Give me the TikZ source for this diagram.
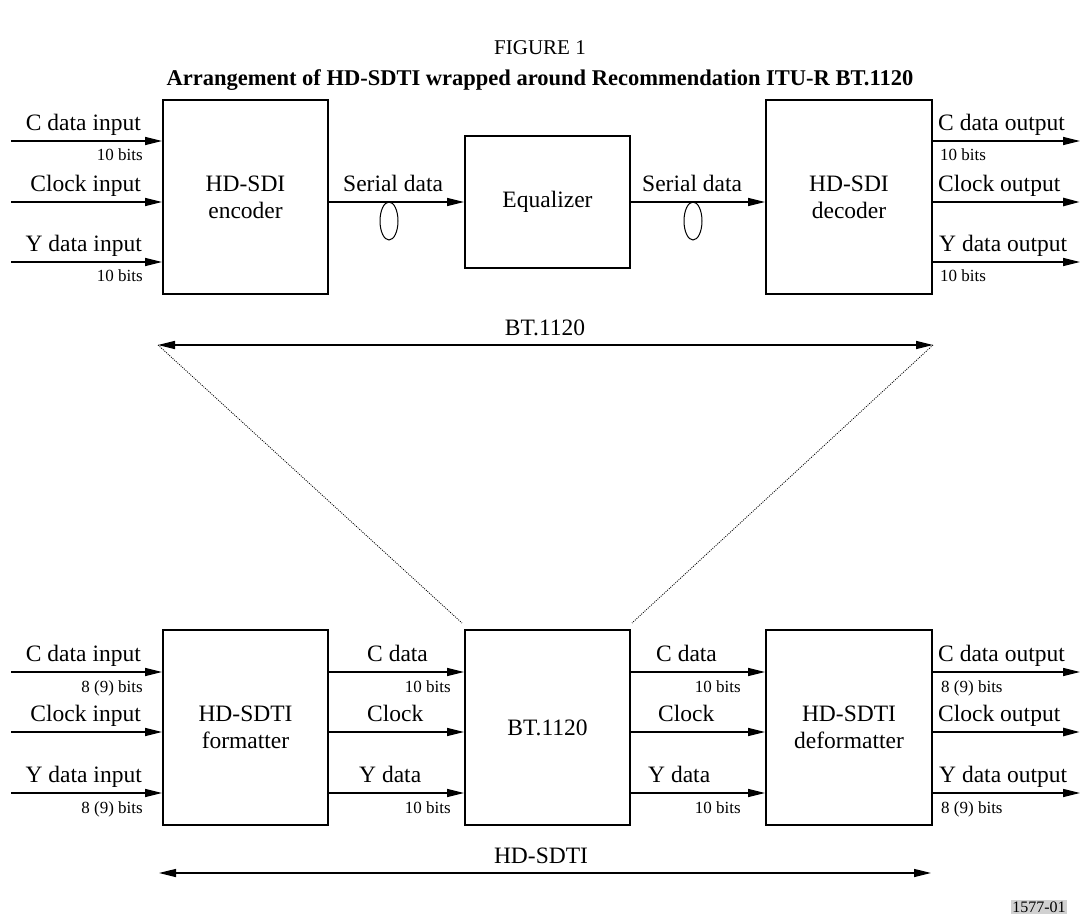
\documentclass[tikz,border=0pt]{standalone}
\usepackage{fontspec}
\setmainfont{Liberation Serif}
\usetikzlibrary{arrows.meta,calc,shapes.geometric}
\begin{document}
\begin{tikzpicture}[x=1pt,y=-1pt,
  box/.style={draw, line width=1.8pt, inner sep=0pt, align=center, font=\fontsize{23.5}{27}\selectfont},
  sig/.style={line width=1.3pt, -{Triangle[length=17pt,width=8pt]}},
  clk/.style={line width=2.6pt, -{Triangle[length=17pt,width=8pt]}},
  dbl/.style={line width=1.3pt, {Triangle[length=17pt,width=8pt]}-{Triangle[length=17pt,width=8pt]}},
  lbl/.style={inner sep=0pt, font=\fontsize{23.5}{27}\selectfont},
  sml/.style={inner sep=0pt, font=\fontsize{17}{20}\selectfont},
  dots/.style={line width=0.8pt, dash pattern=on 1pt off 1.2pt},
  cable/.style={draw, ellipse, line width=1pt, inner sep=0pt, minimum width=18pt, minimum height=38pt}
]
\useasboundingbox (0,0) rectangle (1081,917);

% titles
\node[inner sep=0pt, font=\fontsize{21}{24}\selectfont] (fig) at (540,48) {FIGURE 1};
\node[inner sep=0pt, font=\bfseries\fontsize{22.5}{26}\selectfont] (ttl) at (540,80) {Arrangement of HD-SDTI wrapped around Recommendation ITU-R BT.1120};

% top boxes
\node[box, minimum width=165pt, minimum height=194pt] (enc) at (245.5,197) {HD-SDI\\encoder};
\node[box, minimum width=165pt, minimum height=132pt] (eq) at (547.5,202) {Equalizer};
\node[box, minimum width=166pt, minimum height=194pt] (dec) at (849,197) {HD-SDI\\decoder};

% bottom boxes
\node[box, minimum width=165pt, minimum height=195pt] (fmt) at (245.5,727.5) {HD-SDTI\\formatter};
\node[box, minimum width=165pt, minimum height=195pt] (bt) at (547.5,727.5) {BT.1120};
\node[box, minimum width=166pt, minimum height=195pt] (dfm) at (849,727.5) {HD-SDTI\\deformatter};

% row coordinates
\coordinate (t1) at (11,141); \coordinate (t2) at (11,202); \coordinate (t3) at (11,262);
\coordinate (T1) at (1080,141); \coordinate (T2) at (1080,202); \coordinate (T3) at (1080,262);
\coordinate (b1) at (11,672); \coordinate (b2) at (11,732); \coordinate (b3) at (11,793);
\coordinate (B1) at (1080,672); \coordinate (B2) at (1080,732); \coordinate (B3) at (1080,793);

% top inputs
\draw[sig] (t1) -- (t1 -| enc.west);
\draw[sig] (t2) -- (t2 -| enc.west);
\draw[sig] (t3) -- (t3 -| enc.west);
\node[lbl, anchor=base east] (lti1) at (141,130.5) {C data input};
\node[sml, anchor=base east] (sti1) at (143,161) {10 bits};
\node[lbl, anchor=base east] (lti2) at (141,191.5) {Clock input};
\node[lbl, anchor=base east] (lti3) at (142,251.5) {Y data input};
\node[sml, anchor=base east] (sti3) at (143,282) {10 bits};

% serial links
\draw[sig] (t2 -| enc.east) -- (t2 -| eq.west);
\draw[sig] (t2 -| eq.east) -- (t2 -| dec.west);
\node[lbl, anchor=base west] (ls1) at (343,191.5) {Serial data};
\node[lbl, anchor=base west] (ls2) at (642,191.5) {Serial data};
\node[cable] (e1) at (389,221) {};
\node[cable] (e2) at (693,221) {};

% top outputs
\draw[sig] (T1 -| dec.east) -- (T1);
\draw[clk] (T2 -| dec.east) -- (T2);
\draw[sig] (T3 -| dec.east) -- (T3);
\node[lbl, anchor=base west] (lto1) at (938,130.5) {C data output};
\node[sml, anchor=base west] (sto1) at (940,161) {10 bits};
\node[lbl, anchor=base west] (lto2) at (938,191.5) {Clock output};
\node[lbl, anchor=base west] (lto3) at (939,251.5) {Y data output};
\node[sml, anchor=base west] (sto3) at (940,282) {10 bits};

% BT.1120 span
\coordinate (bl) at (158,345); \coordinate (br) at (933,345);
\coordinate (dl) at (462,623); \coordinate (dr) at (632,623);
\draw[dbl] (bl) -- (br);
\node[lbl, anchor=base] (lbt) at (545,335) {BT.1120};
\draw[dots] (bl) -- (dl);
\draw[dots] (br) -- (dr);

% bottom inputs
\draw[sig] (b1) -- (b1 -| fmt.west);
\draw[sig] (b2) -- (b2 -| fmt.west);
\draw[sig] (b3) -- (b3 -| fmt.west);
\node[lbl, anchor=base east] (lbi1) at (141,661.5) {C data input};
\node[sml, anchor=base east] (sbi1) at (143,692) {8 (9) bits};
\node[lbl, anchor=base east] (lbi2) at (141,721.5) {Clock input};
\node[lbl, anchor=base east] (lbi3) at (142,782.5) {Y data input};
\node[sml, anchor=base east] (sbi3) at (143,813) {8 (9) bits};

% formatter -> BT.1120
\draw[sig] (b1 -| fmt.east) -- (b1 -| bt.west);
\draw[sig] (b2 -| fmt.east) -- (b2 -| bt.west);
\draw[sig] (b3 -| fmt.east) -- (b3 -| bt.west);
\node[lbl, anchor=base west] (lm1) at (367,661.5) {C data};
\node[sml, anchor=base east] (sm1) at (451,692) {10 bits};
\node[lbl, anchor=base west] (lm2) at (367,721.5) {Clock};
\node[lbl, anchor=base west] (lm3) at (359,782.5) {Y data};
\node[sml, anchor=base east] (sm3) at (451,813) {10 bits};

% BT.1120 -> deformatter
\draw[sig] (b1 -| bt.east) -- (b1 -| dfm.west);
\draw[sig] (b2 -| bt.east) -- (b2 -| dfm.west);
\draw[sig] (b3 -| bt.east) -- (b3 -| dfm.west);
\node[lbl, anchor=base west] (ln1) at (656,661.5) {C data};
\node[sml, anchor=base east] (sn1) at (741,692) {10 bits};
\node[lbl, anchor=base west] (ln2) at (658,721.5) {Clock};
\node[lbl, anchor=base west] (ln3) at (648,782.5) {Y data};
\node[sml, anchor=base east] (sn3) at (741,813) {10 bits};

% bottom outputs
\draw[sig] (B1 -| dfm.east) -- (B1);
\draw[clk] (B2 -| dfm.east) -- (B2);
\draw[sig] (B3 -| dfm.east) -- (B3);
\node[lbl, anchor=base west] (lbo1) at (938,661.5) {C data output};
\node[sml, anchor=base west] (sbo1) at (941,692) {8 (9) bits};
\node[lbl, anchor=base west] (lbo2) at (938,721.5) {Clock output};
\node[lbl, anchor=base west] (lbo3) at (939,782.5) {Y data output};
\node[sml, anchor=base west] (sbo3) at (941,813) {8 (9) bits};

% HD-SDTI span
\coordinate (hl) at (159,873); \coordinate (hr) at (931,873);
\draw[dbl] (hl) -- (hr);
\node[lbl, anchor=base] (lhd) at (541,863) {HD-SDTI};

% figure number
\node[fill=black!18, inner sep=1.5pt, font=\fontsize{16}{18}\selectfont] (num) at (1039,907) {1577-01};
\end{tikzpicture}
\end{document}
